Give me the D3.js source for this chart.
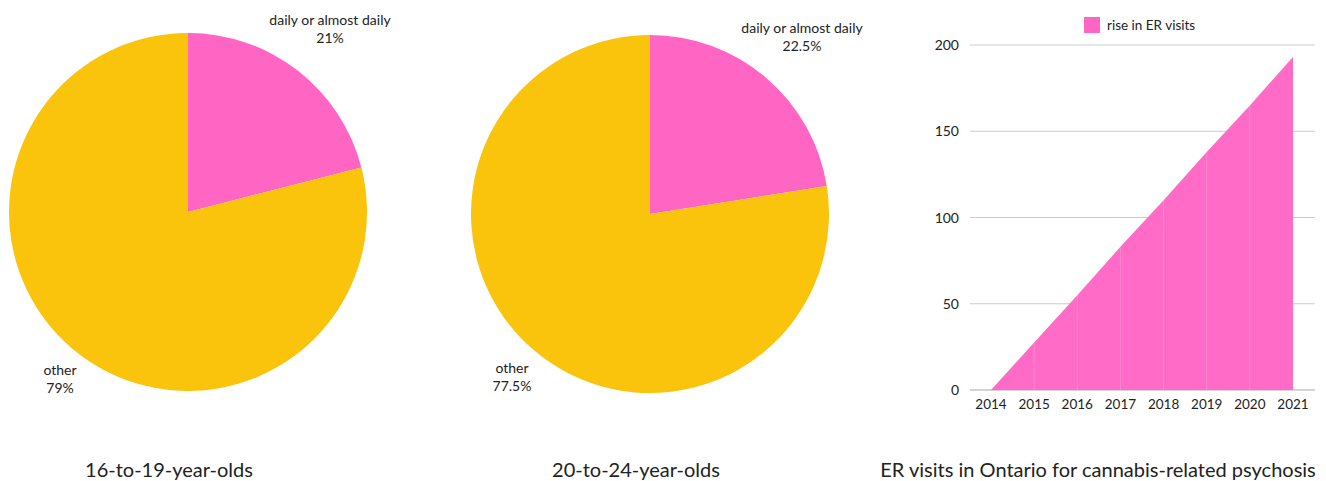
<!DOCTYPE html>
<html>
<head>
<meta charset="utf-8">
<script src="https://cdn.jsdelivr.net/npm/d3@7"></script>
<style>
  body { margin: 0; background: #fff; font-family: Lato, sans-serif; }
  svg text { font-family: Lato, sans-serif; fill: #222; }
</style>
</head>
<body>
<svg id="chart" width="1326" height="481"></svg>
<script>
// pie data
let pieCategories = ['daily or almost daily', 'other'];
let pie1Values = [21, 79];
let pie2Values = [22.5, 77.5];
let pieTitles = ['16-to-19-year-olds', '20-to-24-year-olds'];
let pieColors = ['#ff66c4', '#fac30c'];

// area data
let years = [2014, 2015, 2016, 2017, 2018, 2019, 2020, 2021];
let erRise = [0, 27.5, 55, 83, 110, 138, 165, 193];
let yTicks = [0, 50, 100, 150, 200];
let areaTitle = 'ER visits in Ontario for cannabis-related psychosis';
let legendLabel = 'rise in ER visits';

let svg = d3.select('#chart');

let drawPie = function(values, cx, cy, r, title, titleX, labelPos){
  let g = svg.append('g').attr('transform', 'translate(' + [cx, cy] + ')');
  let pie = d3.pie().sort(null).value(d => d);
  let arc = d3.arc().innerRadius(0).outerRadius(r);
  g.selectAll('path').data(pie(values)).enter().append('path')
    .attr('d', arc)
    .attr('fill', (d, i) => pieColors[i]);

  pieCategories.forEach((c, i) => {
    let t = svg.append('text').attr('text-anchor', 'middle').style('font-size', '14px');
    t.append('tspan').attr('x', labelPos[i][0]).attr('y', labelPos[i][1]).text(c);
    t.append('tspan').attr('x', labelPos[i][0]).attr('y', labelPos[i][1] + 18).text(values[i] + '%');
  });

  svg.append('text').attr('x', titleX).attr('y', 477)
    .attr('text-anchor', 'middle').style('font-size', '20px').text(title);
};

drawPie(pie1Values, 188, 212, 179, pieTitles[0], 169, [[330, 25], [60, 375]]);
drawPie(pie2Values, 650, 214, 179, pieTitles[1], 636, [[802, 33], [512, 373]]);

// area chart
let margin = {left: 970, right: 1315, top: 45, bottom: 390};
let x = d3.scalePoint().domain(years).range([991, 1293]);
let y = d3.scaleLinear().domain([0, 200]).range([margin.bottom, margin.top]);

let grid = svg.append('g');
yTicks.forEach(t => {
  grid.append('line')
    .attr('x1', margin.left).attr('x2', margin.right)
    .attr('y1', y(t)).attr('y2', y(t))
    .attr('stroke', t == 0 ? '#aaa' : '#ccc').attr('stroke-width', 1);
  svg.append('text').attr('x', 959).attr('y', y(t) + 5)
    .attr('text-anchor', 'end').style('font-size', '14px').text(t);
});

let area = d3.area()
  .x((d, i) => x(years[i]))
  .y0(y(0))
  .y1(d => y(d));

svg.append('path').datum(erRise)
  .attr('d', area)
  .attr('fill', '#ff66c4')
  .attr('fill-opacity', 0.97);

// faint vertical lines inside the area
years.forEach((yr, i) => {
  if (i == 0 || i == years.length - 1) return;
  svg.append('line')
    .attr('x1', x(yr)).attr('x2', x(yr))
    .attr('y1', y(erRise[i])).attr('y2', y(0))
    .attr('stroke', '#fff').attr('stroke-opacity', 0.2);
});

years.forEach(yr => {
  svg.append('text').attr('x', x(yr)).attr('y', 409)
    .attr('text-anchor', 'middle').style('font-size', '13.5px').text(yr);
});

// legend
svg.append('rect').attr('x', 1084).attr('y', 17).attr('width', 16).attr('height', 16).attr('fill', '#ff66c4');
svg.append('text').attr('x', 1107).attr('y', 30).style('font-size', '13.5px').text(legendLabel);

svg.append('text').attr('x', 1098).attr('y', 477)
  .attr('text-anchor', 'middle').style('font-size', '20px').text(areaTitle);
</script>
</body>
</html>
